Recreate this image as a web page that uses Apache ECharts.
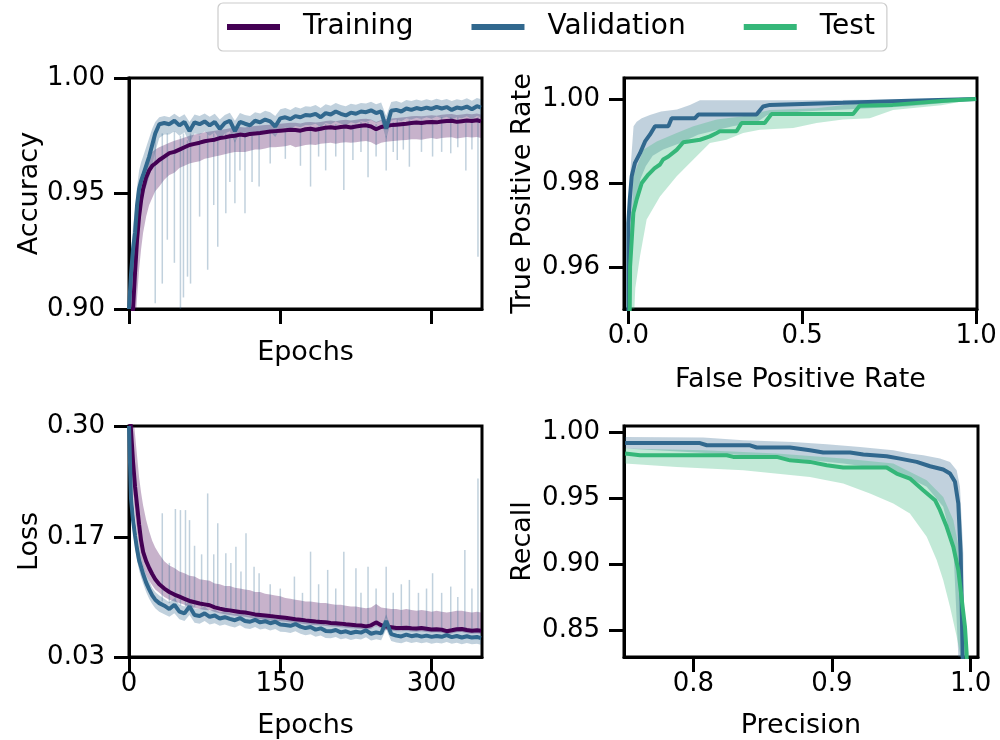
<!DOCTYPE html>
<html><head><meta charset="utf-8">
<script src="https://cdn.jsdelivr.net/npm/echarts@6/dist/echarts.min.js"></script>
<style>html,body{margin:0;padding:0;background:#fff}#c{width:1000px;height:740px}</style>
</head><body><div id="c"></div>
<script>
// ---------- DATA ----------
const epochs = [0,2,4,6,8,10,12,14,17,20,23,26,30,35,
 40,45,50,55,60,65,70,75,80,85,
 90,95,100,105,110,115,120,125,130,135,
 140,145,150,155,160,165,170,175,180,185,
 190,195,200,205,210,215,220,225,230,235,
 240,245,250,255,260,265,270,275,280,285,
 290,295,300,305,310,315,320,325,330,335,
 340,345,349];

const trainAcc = [0.885,0.893,0.900,0.916,0.930,0.940,0.947,0.952,0.957,0.960,0.962,0.963,0.9645,0.966,
 0.9675,0.968,0.969,0.970,0.971,0.9715,0.972,0.9726,0.973,0.9733,
 0.974,0.9743,0.9748,0.975,0.9755,0.9752,0.9758,0.976,0.9762,0.9765,
 0.9768,0.977,0.9772,0.9774,0.9776,0.9775,0.9772,0.9778,0.978,0.9776,
 0.978,0.9785,0.9787,0.9784,0.9788,0.979,0.9786,0.979,0.9793,0.9795,
 0.979,0.9778,0.9788,0.9792,0.9796,0.9798,0.980,0.9802,0.9805,0.9807,
 0.9805,0.9808,0.981,0.9808,0.9812,0.9814,0.9815,0.981,0.9813,0.9816,
 0.9814,0.9817,0.9812];
const trainAccLo = [0.86,0.868,0.877,0.891,0.905,0.917,0.926,0.933,0.940,0.945,0.948,0.951,0.953,0.956,
 0.958,0.959,0.961,0.962,0.963,0.9635,0.964,0.965,0.9655,0.966,
 0.9665,0.967,0.9675,0.968,0.968,0.968,0.9685,0.969,0.969,0.9695,
 0.970,0.970,0.9702,0.9705,0.971,0.970,0.9705,0.971,0.9712,0.971,
 0.9715,0.9718,0.972,0.9715,0.972,0.9722,0.972,0.9722,0.9725,0.9727,
 0.9722,0.971,0.972,0.9724,0.9726,0.9728,0.973,0.9732,0.9735,0.9735,
 0.9733,0.9737,0.974,0.9736,0.974,0.9742,0.9743,0.9738,0.9741,0.9745,
 0.9742,0.9745,0.974];
const trainAccHi = [0.90,0.912,0.922,0.935,0.944,0.951,0.956,0.960,0.964,0.966,0.968,0.969,0.970,0.971,
 0.972,0.9728,0.9735,0.9742,0.975,0.9755,0.976,0.9765,0.9768,0.9772,
 0.9775,0.9778,0.9782,0.9784,0.9788,0.9786,0.979,0.9792,0.9794,0.9796,
 0.9798,0.980,0.9802,0.9804,0.9806,0.9806,0.9803,0.9808,0.981,0.9807,
 0.981,0.9814,0.9816,0.9813,0.9817,0.9819,0.9816,0.9819,0.9822,0.9824,
 0.982,0.981,0.9818,0.9822,0.9825,0.9827,0.9829,0.9831,0.9834,0.9836,
 0.9834,0.9837,0.9839,0.9837,0.9841,0.9843,0.9844,0.984,0.9842,0.9845,
 0.9843,0.9846,0.9842];
const valAcc = [0.900,0.915,0.926,0.933,0.945,0.952,0.9555,0.958,0.962,0.966,0.971,0.976,0.980,0.9805,
 0.980,0.9815,0.9795,0.981,0.977,0.9808,0.980,0.9812,0.9795,0.981,
 0.978,0.9805,0.9815,0.977,0.981,0.9802,0.9795,0.9815,0.9808,0.982,
 0.9812,0.979,0.9825,0.983,0.9822,0.9835,0.983,0.984,0.9838,0.9845,
 0.983,0.9848,0.9842,0.9855,0.9845,0.9838,0.985,0.9845,0.9855,0.9852,
 0.986,0.9848,0.9856,0.978,0.9858,0.9862,0.9855,0.9868,0.9862,0.987,
 0.9865,0.9872,0.9866,0.9875,0.9868,0.9874,0.9862,0.9872,0.9868,0.9876,
 0.9865,0.9878,0.9872];
const valAccHi = [0.91,0.925,0.936,0.943,0.953,0.96,0.9635,0.966,0.97,0.974,0.978,0.981,0.983,0.9835,
 0.983,0.9845,0.983,0.9843,0.981,0.9842,0.9835,0.9846,0.9832,0.9845,
 0.982,0.984,0.985,0.9815,0.9848,0.984,0.9835,0.9852,0.9846,0.9858,
 0.9852,0.9835,0.9865,0.987,0.9862,0.9875,0.9868,0.9878,0.9876,0.9883,
 0.987,0.9886,0.988,0.9892,0.9883,0.9878,0.9888,0.9884,0.9892,0.989,
 0.9897,0.9886,0.9894,0.9835,0.9896,0.99,0.9893,0.9905,0.99,0.9907,
 0.9902,0.9908,0.9903,0.991,0.9904,0.9909,0.99,0.9908,0.9904,0.9912,
 0.9902,0.9913,0.9908];
const valAccLo = [0.885,0.903,0.914,0.921,0.934,0.942,0.946,0.949,0.953,0.957,0.962,0.968,0.974,0.9755,
 0.9755,0.977,0.975,0.9765,0.972,0.976,0.9755,0.9768,0.975,0.9765,
 0.9735,0.976,0.977,0.972,0.9765,0.9757,0.975,0.977,0.9763,0.9775,
 0.9767,0.9745,0.978,0.9786,0.9778,0.9792,0.9787,0.9797,0.9795,0.9802,
 0.9787,0.9805,0.98,0.9812,0.9802,0.9795,0.9808,0.9803,0.9813,0.981,
 0.9818,0.9806,0.9814,0.9735,0.9816,0.982,0.9813,0.9826,0.982,0.9828,
 0.9823,0.983,0.9824,0.9833,0.9826,0.9832,0.982,0.983,0.9826,0.9834,
 0.9823,0.9836,0.983];
// [epoch, spike low, band edge]
const valAccSpikes = [[26,0.9025,0.975],[33,0.911,0.976],[38,0.93,0.976],[45,0.92,0.977],[51,0.90,0.975],
 [54,0.905,0.976],[58,0.914,0.973],[61,0.911,0.976],[70,0.94,0.975],[78,0.917,0.976],[84,0.945,0.976],
 [88,0.927,0.975],[96,0.9414,0.976],[100,0.955,0.976],[105,0.9458,0.973],[110,0.96,0.976],[115,0.9414,0.976],
 [122,0.955,0.975],[129,0.953,0.976],[140,0.963,0.977],[155,0.965,0.978],[170,0.962,0.978],[180,0.953,0.979],
 [188,0.966,0.979],[195,0.96,0.980],[205,0.966,0.980],[213,0.9515,0.98],[222,0.9645,0.98],[230,0.968,0.981],
 [237,0.957,0.981],[245,0.966,0.98],[255,0.96,0.975],[262,0.968,0.981],[266,0.9645,0.982],[272,0.969,0.981],
 [278,0.9616,0.982],[290,0.968,0.982],[301,0.966,0.982],[310,0.968,0.983],[319,0.9674,0.983],[326,0.97,0.983],
 [334,0.96,0.982],[340,0.969,0.982],[346,0.9226,0.983]];

const trainLoss = [0.33,0.295,0.258,0.229,0.207,0.185,0.166,0.153,0.142,0.134,0.127,0.121,0.115,0.11,
 0.106,0.103,0.1005,0.098,0.0955,0.094,0.0925,0.0915,0.0905,0.088,
 0.0865,0.0852,0.0845,0.0835,0.0825,0.082,0.081,0.0798,0.0792,0.0785,
 0.0778,0.0772,0.0765,0.0758,0.075,0.0742,0.0736,0.0728,0.0722,0.0715,
 0.071,0.0705,0.0698,0.0695,0.069,0.0682,0.0678,0.0672,0.0668,0.0658,
 0.067,0.0705,0.0672,0.0655,0.0648,0.064,0.0638,0.0642,0.0635,0.0632,
 0.0638,0.063,0.0622,0.0625,0.062,0.0602,0.0612,0.0625,0.0628,0.0615,
 0.0608,0.0612,0.0606];
const trainLossHi = [0.36,0.34,0.315,0.29,0.265,0.24,0.222,0.207,0.19,0.177,0.166,0.158,0.15,0.142,
 0.137,0.134,0.13,0.128,0.125,0.124,0.121,0.12,0.119,0.116,
 0.115,0.113,0.113,0.111,0.11,0.109,0.108,0.106,0.106,0.104,
 0.103,0.102,0.101,0.099,0.098,0.097,0.096,0.095,0.095,0.094,
 0.093,0.093,0.092,0.091,0.091,0.09,0.089,0.089,0.088,0.087,
 0.088,0.092,0.088,0.087,0.086,0.086,0.085,0.086,0.085,0.084,
 0.085,0.084,0.083,0.084,0.083,0.082,0.083,0.084,0.084,0.083,
 0.082,0.083,0.082];
const trainLossLo = [0.30,0.255,0.22,0.195,0.175,0.158,0.145,0.136,0.126,0.119,0.114,0.109,0.105,0.1,
 0.097,0.095,0.093,0.091,0.089,0.0875,0.086,0.085,0.0845,0.0825,
 0.081,0.08,0.0792,0.0783,0.0775,0.077,0.076,0.0747,0.0742,0.0737,
 0.0728,0.0725,0.0718,0.0712,0.0704,0.0697,0.0691,0.0684,0.0678,0.0672,
 0.0667,0.0662,0.0656,0.0653,0.0648,0.0641,0.0637,0.0632,0.0628,0.0619,
 0.063,0.0663,0.0632,0.0616,0.061,0.0602,0.06,0.0604,0.0597,0.0595,
 0.06,0.0593,0.0585,0.0588,0.0583,0.0566,0.0576,0.0588,0.0591,0.0578,
 0.0572,0.0576,0.057];
const valLoss = [0.30,0.215,0.19,0.172,0.156,0.143,0.135,0.127,0.117,0.109,0.102,0.097,0.093,0.09,
 0.086,0.091,0.083,0.081,0.089,0.079,0.078,0.081,0.077,0.0785,
 0.075,0.0765,0.0745,0.073,0.0755,0.072,0.0712,0.0735,0.0705,0.0718,
 0.0695,0.0712,0.068,0.0675,0.0665,0.0685,0.0655,0.0638,0.065,0.062,
 0.0635,0.0605,0.06,0.0615,0.0588,0.06,0.058,0.0595,0.0585,0.0612,
 0.0572,0.0588,0.0576,0.072,0.0568,0.055,0.054,0.0562,0.0543,0.0555,
 0.0538,0.055,0.0535,0.0546,0.0536,0.0555,0.0532,0.0545,0.0528,0.0542,
 0.0527,0.0535,0.052];
const valLossLo = [0.28,0.2,0.175,0.158,0.143,0.131,0.123,0.116,0.106,0.098,0.092,0.087,0.083,0.08,
 0.077,0.081,0.074,0.072,0.079,0.07,0.069,0.072,0.068,0.0695,
 0.0665,0.068,0.066,0.0645,0.067,0.0635,0.0628,0.065,0.062,0.0633,
 0.061,0.0627,0.0596,0.0591,0.0581,0.0601,0.0571,0.0555,0.0567,0.0537,
 0.0552,0.0523,0.0518,0.0533,0.0507,0.0519,0.05,0.0514,0.0504,0.053,
 0.0492,0.0507,0.0495,0.062,0.0488,0.047,0.046,0.0482,0.0464,0.0476,
 0.046,0.0471,0.0456,0.0467,0.0458,0.0476,0.0454,0.0466,0.045,0.0463,
 0.0449,0.0456,0.0442];
const valLossHi = [0.32,0.23,0.205,0.186,0.17,0.156,0.147,0.138,0.127,0.119,0.111,0.106,0.102,0.098,
 0.094,0.099,0.091,0.089,0.097,0.087,0.086,0.089,0.084,0.0855,
 0.082,0.0835,0.0815,0.08,0.0825,0.079,0.0782,0.0805,0.0775,0.0788,
 0.0765,0.0782,0.075,0.0745,0.0735,0.0755,0.0725,0.0708,0.072,0.069,
 0.0705,0.0675,0.067,0.0685,0.0658,0.067,0.065,0.0665,0.0655,0.0682,
 0.0642,0.0658,0.0646,0.08,0.0638,0.062,0.061,0.0632,0.0613,0.0625,
 0.0608,0.062,0.0605,0.0616,0.0606,0.0625,0.0602,0.0615,0.0598,0.0612,
 0.0597,0.0605,0.059];
// [epoch, spike high, band edge]
const valLossSpikes = [[33,0.198,0.095],[40,0.14,0.093],[46,0.203,0.095],[51,0.2017,0.09],[56,0.2017,0.09],
 [60,0.19,0.093],[65,0.16,0.088],[72,0.15,0.088],[78,0.2212,0.088],[84,0.15,0.086],[88,0.1862,0.085],
 [96,0.1512,0.083],[101,0.14,0.082],[106,0.1589,0.082],[111,0.13,0.081],[116,0.1746,0.08],[124,0.1356,0.079],
 [129,0.1279,0.078],[140,0.115,0.077],[150,0.11,0.075],[164,0.124,0.074],[172,0.105,0.073],[180,0.1531,0.072],
 [188,0.115,0.071],[197,0.1318,0.069],[205,0.11,0.068],[213,0.1531,0.067],[225,0.1338,0.066],[230,0.105,0.066],
 [237,0.1356,0.066],[245,0.11,0.065],[255,0.1356,0.075],[262,0.105,0.064],[270,0.115,0.062],[278,0.1201,0.062],
 [287,0.105,0.062],[295,0.11,0.061],[301,0.1279,0.061],[310,0.105,0.06],[319,0.1123,0.061],[326,0.1,0.06],
 [333,0.1551,0.06],[340,0.11,0.06],[346,0.2387,0.06]];

// ROC: [FPR, TPR]
const rocValLine = [[0,0.94],[0,0.9705],[0.004,0.976],[0.0096,0.9816],[0.019,0.9848],[0.0335,0.9871],[0.048,0.9899],
 [0.062,0.9915],[0.0766,0.9935],[0.115,0.9935],[0.1245,0.9954],[0.191,0.9954],[0.201,0.9963],[0.3685,0.9963],
 [0.3875,0.9982],[0.407,0.9986],[0.617,0.9991],[0.8085,0.9996],[1.0,1.0]];
const rocTestLine = [[0.003,0.94],[0.005,0.96],[0.0144,0.9729],[0.024,0.9761],[0.0385,0.980],[0.0574,0.982],
 [0.075,0.9835],[0.091,0.9844],[0.1,0.9856],[0.115,0.9863],[0.139,0.9879],[0.158,0.9897],[0.206,0.9903],
 [0.2345,0.9911],[0.254,0.9919],[0.263,0.9923],[0.311,0.9923],[0.3255,0.9943],[0.392,0.9943],[0.4115,0.9964],
 [0.646,0.9964],[0.665,0.9984],[0.76,0.9986],[0.9,0.9995],[1.0,1.0]];
const rocValUpper = [[0.0,0.95],[0.005,0.982],[0.015,0.9935],[0.024,0.9946],[0.0385,0.9954],[0.062,0.9962],
 [0.094,0.997],[0.14,0.9975],[0.177,0.9986],[0.206,0.9997],[0.5,0.9997],[0.8,0.9999],[1.0,1.0]];
const rocValLower = [[0.004,0.94],[0.01,0.962],[0.02,0.9745],[0.035,0.981],[0.05,0.984],[0.07,0.9865],[0.1,0.988],
 [0.15,0.9895],[0.2,0.9915],[0.3,0.9935],[0.37,0.9945],[0.4,0.9962],[0.5,0.997],[0.65,0.9976],[0.8,0.9982],
 [0.9,0.999],[1.0,1.0]];
const rocTestUpper = [[0.003,0.95],[0.0144,0.9816],[0.043,0.9879],[0.0815,0.9899],[0.139,0.9919],[0.187,0.9935],
 [0.254,0.9951],[0.33,0.9959],[0.407,0.9974],[0.541,0.9978],[0.665,0.999],[0.8085,0.9996],[1.0,1.0]];
const rocTestLower = [[0.012,0.94],[0.02,0.955],[0.0336,0.9626],[0.0526,0.9713],[0.091,0.9768],[0.139,0.9816],
 [0.187,0.9856],[0.2345,0.9895],[0.282,0.9903],[0.33,0.9919],[0.378,0.9927],[0.474,0.9931],[0.541,0.9943],
 [0.617,0.9951],[0.694,0.9954],[0.761,0.9974],[0.9,0.9985],[1.0,1.0]];

// PR: [precision, recall]
const prValLine = [[0.7508,0.9921],[0.8048,0.9921],[0.8097,0.9904],[0.8409,0.9904],[0.8457,0.9887],[0.8697,0.9887],
 [0.8841,0.9866],[0.8937,0.9849],[0.913,0.9849],[0.9226,0.9834],[0.9394,0.9821],[0.949,0.9803],[0.9611,0.9778],
 [0.9707,0.9745],[0.9802,0.972],[0.9851,0.969],[0.9887,0.9627],[0.9911,0.9463],[0.9928,0.9085],[0.9942,0.8329],
 [0.9946,0.80]];
const prTestLine = [[0.7508,0.9841],[0.7616,0.9828],[0.8241,0.9828],[0.8288,0.9816],[0.8601,0.9816],[0.8697,0.979],
 [0.8841,0.9778],[0.8962,0.9753],[0.9081,0.9735],[0.9394,0.9735],[0.9466,0.969],[0.9562,0.9652],[0.9658,0.9564],
 [0.9743,0.9488],[0.9779,0.9412],[0.9827,0.9286],[0.9875,0.9135],[0.9911,0.8959],[0.9942,0.8681],[0.9959,0.853],
 [0.9971,0.8329],[0.9975,0.80]];
const prValUpper = [[0.7508,0.9967],[0.8072,0.9962],[0.836,0.9942],[0.8721,0.9929],[0.8962,0.9912],[0.9202,0.9891],
 [0.9442,0.9866],[0.9562,0.9841],[0.9658,0.9828],[0.9779,0.9803],[0.9851,0.9778],[0.9899,0.9715],[0.9923,0.9589],
 [0.9947,0.9085],[0.9952,0.80]];
const prValLower = [[0.7508,0.9879],[0.8601,0.9816],[0.9081,0.9766],[0.9442,0.9715],[0.9683,0.9589],[0.9802,0.9438],
 [0.9875,0.9135],[0.991,0.833],[0.9912,0.80]];
const prTestUpper = [[0.7508,0.9879],[0.8072,0.9866],[0.8601,0.9841],[0.9081,0.9803],[0.9442,0.9766],[0.9683,0.9639],
 [0.9802,0.9513],[0.9875,0.9337],[0.9923,0.9085],[0.9947,0.8833],[0.9966,0.833],[0.9975,0.80]];
const prTestLower = [[0.7508,0.9766],[0.788,0.974],[0.836,0.9715],[0.8841,0.9664],[0.9081,0.9614],[0.9274,0.9539],
 [0.9442,0.9463],[0.9562,0.9387],[0.9683,0.9211],[0.9755,0.9035],[0.9802,0.8883],[0.9851,0.8681],[0.9899,0.8455],
 [0.9923,0.833],[0.993,0.80]];

const seriesNames = ['Training','Validation','Test'];
const accTicks = [0.90,0.95,1.00];
const lossTicks = [0.03,0.17,0.30];
const epochTicks = [0,150,300];
const rocXTicks = [0.0,0.5,1.0];
const rocYTicks = [0.96,0.98,1.00];
const prXTicks = [0.8,0.9,1.0];
const prYTicks = [0.85,0.90,0.95,1.00];

// ---------- STYLE / HELPERS ----------
const FONT = 'DejaVu Sans';
const COL = {Training:'#440154', Validation:'#31688e', Test:'#35b779'};
function rgba(hex,a){const n=parseInt(hex.slice(1),16);return `rgba(${n>>16&255},${n>>8&255},${n&255},${a})`;}
function zip(xs,ys){return xs.map((x,i)=>[x,ys[i]]);}
function band(gi, upper, lower, color){
  const pts = upper.concat(lower.slice().reverse());
  return {type:'custom', xAxisIndex:gi, yAxisIndex:gi, clip:true, silent:true, z:1,
    data:[pts[0]],
    renderItem:(p,api)=>({type:'polygon', shape:{points:pts.map(q=>api.coord(q))},
      style:{fill:rgba(color,0.3), stroke:null}})};
}
function spikes(gi, data, color){
  return {type:'custom', xAxisIndex:gi, yAxisIndex:gi, clip:true, silent:true, z:1,
    data:data, encode:{x:0,y:[1,2]},
    renderItem:(p,api)=>{const a=api.coord([api.value(0),api.value(1)]);const b=api.coord([api.value(0),api.value(2)]);
      return {type:'line', shape:{x1:a[0],y1:a[1],x2:b[0],y2:b[1]}, style:{stroke:rgba(color,0.3), lineWidth:1.5}};}};
}
function line(name, gi, data){
  return {type:'line', name, xAxisIndex:gi, yAxisIndex:gi, data, showSymbol:false, symbol:'none', silent:true, z:3,
    lineStyle:{color:COL[name], width:4}, itemStyle:{color:COL[name]}};
}
const txt = {color:'#000', fontSize:26, fontFamily:FONT};
const nameTxt = {color:'#000', fontSize:27, fontFamily:FONT};
function axis(gi, o){
  return Object.assign({
    gridIndex:gi, type:'value', nameLocation:'middle', nameTextStyle:nameTxt,
    axisLine:{show:true, onZero:false, lineStyle:{color:'#000', width:3}},
    axisTick:{show:true, inside:false, length:15, lineStyle:{color:'#000', width:3}, customValues:o.ticks},
    axisLabel:Object.assign({show:true, customValues:o.ticks, margin:o.margin, formatter:o.fmt}, txt, o.label||{}),
    splitLine:{show:false}
  }, o.ax);
}
const gridStyle = {show:true, borderColor:'#000', borderWidth:3, backgroundColor:'rgba(0,0,0,0)'};

const option = {
  animation:false, backgroundColor:'#fff',
  legend:{top:3, left:218, selectedMode:false, icon:'rect', itemWidth:53, itemHeight:6, itemGap:58,
    data:seriesNames, textStyle:{color:'#000', fontSize:28, fontFamily:FONT, padding:[0,0,0,18]},
    borderColor:'#cccccc', borderWidth:1.2, borderRadius:5, padding:[10,12,10,9], backgroundColor:'#fff'},
  grid:[
    Object.assign({left:129, top:78, width:353, height:231}, gridStyle),
    Object.assign({left:624, top:78, width:353, height:231}, gridStyle),
    Object.assign({left:129, top:426, width:353, height:231}, gridStyle),
    Object.assign({left:624, top:426, width:354, height:231}, gridStyle)
  ],
  xAxis:[
    axis(0,{ticks:epochTicks, margin:14, label:{show:false}, ax:{min:0, max:350, name:'Epochs', nameGap:30}}),
    axis(1,{ticks:rocXTicks, margin:14, fmt:v=>v.toFixed(1), ax:{min:-0.0125, max:1.0025, name:'False Positive Rate', nameGap:57}}),
    axis(2,{ticks:epochTicks, margin:14, fmt:v=>String(Math.round(v)), ax:{min:0, max:350, name:'Epochs', nameGap:55}}),
    axis(3,{ticks:prXTicks, margin:14, fmt:v=>v.toFixed(1), ax:{min:0.75, max:1.0053, name:'Precision', nameGap:55}})
  ],
  yAxis:[
    axis(0,{ticks:accTicks, margin:24, fmt:v=>v.toFixed(2), ax:{min:0.90, max:1.00, name:'Accuracy', nameGap:80}}),
    axis(1,{ticks:rocYTicks, margin:24, fmt:v=>v.toFixed(2), ax:{min:0.95, max:1.005, name:'True Positive Rate', nameGap:88}}),
    axis(2,{ticks:lossTicks, margin:24, fmt:v=>v.toFixed(2), ax:{min:0.03, max:0.30, name:'Loss', nameGap:80}}),
    axis(3,{ticks:prYTicks, margin:24, fmt:v=>v.toFixed(2), ax:{min:0.83, max:1.005, name:'Recall', nameGap:88}})
  ],
  series:[
    // accuracy
    band(0, zip(epochs,trainAccHi), zip(epochs,trainAccLo), COL.Training),
    band(0, zip(epochs,valAccHi), zip(epochs,valAccLo), COL.Validation),
    spikes(0, valAccSpikes, COL.Validation),
    line('Training',0,zip(epochs,trainAcc)),
    line('Validation',0,zip(epochs,valAcc)),
    // ROC
    band(1, rocValUpper, rocValLower, COL.Validation),
    band(1, rocTestUpper, rocTestLower, COL.Test),
    line('Validation',1,rocValLine),
    line('Test',1,rocTestLine),
    // loss
    band(2, zip(epochs,trainLossHi), zip(epochs,trainLossLo), COL.Training),
    band(2, zip(epochs,valLossHi), zip(epochs,valLossLo), COL.Validation),
    spikes(2, valLossSpikes, COL.Validation),
    line('Training',2,zip(epochs,trainLoss)),
    line('Validation',2,zip(epochs,valLoss)),
    // PR
    band(3, prValUpper, prValLower, COL.Validation),
    band(3, prTestUpper, prTestLower, COL.Test),
    line('Validation',3,prValLine),
    line('Test',3,prTestLine)
  ]
};
const chart = echarts.init(document.getElementById('c'), null, {renderer:'canvas'});
chart.setOption(option);
</script></body></html>
